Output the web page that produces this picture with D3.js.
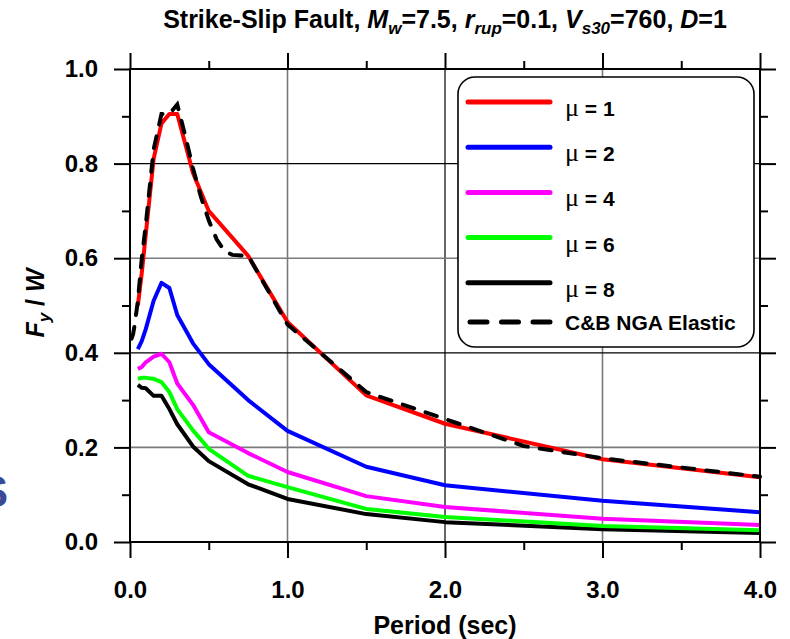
<!DOCTYPE html>
<html>
<head>
<meta charset="utf-8">
<script src="https://cdn.jsdelivr.net/npm/d3@7"></script>
<style>
  body { margin: 0; background: #fff; }
  svg { display: block; font-family: "Liberation Sans", Arial, sans-serif; }
  .tick text { font-weight: bold; }
</style>
</head>
<body>
<svg width="790" height="639"></svg>
<script>
// periods used for the inelastic runs
var periods = [0.05, 0.075, 0.1, 0.15, 0.2, 0.25, 0.3, 0.4, 0.5, 0.75, 1.0, 1.5, 2.0, 3.0, 4.0];
var mu1 = [0.50, 0.57, 0.65, 0.81, 0.885, 0.905, 0.905, 0.78, 0.70, 0.605, 0.465, 0.31, 0.25, 0.175, 0.137];
var mu2 = [0.408, 0.425, 0.45, 0.51, 0.548, 0.537, 0.48, 0.42, 0.376, 0.30, 0.235, 0.159, 0.12, 0.087, 0.063];
var mu4 = [0.366, 0.37, 0.38, 0.392, 0.398, 0.38, 0.335, 0.29, 0.232, 0.188, 0.148, 0.097, 0.074, 0.049, 0.036];
var mu6 = [0.345, 0.347, 0.347, 0.345, 0.338, 0.317, 0.281, 0.236, 0.197, 0.14, 0.116, 0.07, 0.053, 0.034, 0.025];
var mu8 = [0.332, 0.326, 0.325, 0.309, 0.309, 0.281, 0.249, 0.202, 0.171, 0.122, 0.091, 0.059, 0.042, 0.027, 0.019];

// Campbell & Bozorgnia NGA elastic spectrum
var elasticPeriods = [0.01, 0.02, 0.03, 0.05, 0.075, 0.1, 0.15, 0.2, 0.25, 0.3, 0.35, 0.4, 0.45, 0.5, 0.55, 0.6, 0.65, 0.75, 1.0, 1.5, 2.0, 2.5, 3.0, 4.0];
var elastic = [0.43, 0.44, 0.46, 0.51, 0.60, 0.67, 0.83, 0.905, 0.905, 0.925, 0.86, 0.79, 0.73, 0.68, 0.64, 0.615, 0.607, 0.605, 0.46, 0.317, 0.26, 0.203, 0.177, 0.138];

var muLabels = ["1", "2", "4", "6", "8"];
var colors = ["#ff0000", "#0000ff", "#ff00ff", "#00ff00", "#000000"];
var xTicks = [0, 1, 2, 3, 4];
var yTicks = [0, 0.2, 0.4, 0.6, 0.8, 1.0];

var series = [mu1, mu2, mu4, mu6, mu8].map(function(vals, i) {
  return {
    id: muLabels[i],
    color: colors[i],
    values: periods.map(function(p, j) { return {period: p, fy: vals[j]}; })
  };
});
var elasticLine = elasticPeriods.map(function(p, j) { return {period: p, fy: elastic[j]}; });

var svg = d3.select("svg"),
    margin = {top: 69, right: 30, bottom: 97, left: 130},
    width = +svg.attr("width") - margin.left - margin.right,
    height = +svg.attr("height") - margin.top - margin.bottom,
    g = svg.append("g").attr("transform", "translate(" + margin.left + "," + margin.top + ")");

var x = d3.scaleLinear().domain([0, 4]).range([0, width]),
    y = d3.scaleLinear().domain([0, 1]).range([height, 0]);

var line = d3.line()
    .x(function(d) { return x(d.period); })
    .y(function(d) { return y(d.fy); });

// grid
var gridX = [1, 2, 3], gridY = [0.2, 0.4, 0.6, 0.8];
g.selectAll(".gx").data(gridX).enter().append("line")
    .attr("x1", function(d) { return x(d); }).attr("x2", function(d) { return x(d); })
    .attr("y1", 0).attr("y2", height)
    .attr("stroke", function(d) { return d === 2 ? "#000" : "#7a7a7a"; })
    .attr("stroke-width", function(d) { return d === 2 ? 1.2 : 1.6; });
g.selectAll(".gy").data(gridY).enter().append("line")
    .attr("y1", function(d) { return y(d); }).attr("y2", function(d) { return y(d); })
    .attr("x1", 0).attr("x2", width)
    .attr("stroke", function(d) { return (d === 0.4 || d === 0.8) ? "#000" : "#7a7a7a"; })
    .attr("stroke-width", function(d) { return (d === 0.4 || d === 0.8) ? 1.2 : 1.6; });

// curves, mu=8 first so red ends on top
g.selectAll(".mu").data(series.slice().reverse()).enter().append("path")
    .attr("class", "mu")
    .attr("fill", "none")
    .attr("stroke", function(d) { return d.color; })
    .attr("stroke-width", 4)
    .attr("stroke-linejoin", "round")
    .attr("d", function(d) { return line(d.values); });

g.append("path")
    .datum(elasticLine)
    .attr("fill", "none")
    .attr("stroke", "#000")
    .attr("stroke-width", 4)
    .attr("stroke-linecap", "round")
    .attr("stroke-dasharray", "12,12")
    .attr("d", line);

// axes: major ticks with labels, minor ticks, ticks outward on all sides
function styleAxis(sel) {
  sel.select(".domain").remove();
  sel.selectAll(".tick line").attr("stroke-width", 2);
}
g.append("g").attr("transform", "translate(0," + height + ")")
    .call(d3.axisBottom(x).tickValues(xTicks).tickSize(16).tickPadding(23).tickFormat(d3.format(".1f")))
    .call(styleAxis)
    .selectAll("text").style("font-size", "24px").attr("fill", "#000");
g.append("g").attr("transform", "translate(0," + height + ")")
    .call(d3.axisBottom(x).tickValues([0.5, 1.5, 2.5, 3.5]).tickSize(8).tickFormat(""))
    .call(styleAxis);
g.append("g")
    .call(d3.axisTop(x).tickValues(xTicks).tickSize(16).tickFormat(""))
    .call(styleAxis);
g.append("g")
    .call(d3.axisTop(x).tickValues([0.5, 1.5, 2.5, 3.5]).tickSize(8).tickFormat(""))
    .call(styleAxis);
g.append("g")
    .call(d3.axisLeft(y).tickValues(yTicks).tickSize(16).tickPadding(16).tickFormat(d3.format(".1f")))
    .call(styleAxis)
    .selectAll("text").style("font-size", "24px").attr("fill", "#000");
g.append("g")
    .call(d3.axisLeft(y).tickValues([0.1, 0.3, 0.5, 0.7, 0.9]).tickSize(8).tickFormat(""))
    .call(styleAxis);
g.append("g").attr("transform", "translate(" + width + ",0)")
    .call(d3.axisRight(y).tickValues(yTicks).tickSize(16).tickFormat(""))
    .call(styleAxis);
g.append("g").attr("transform", "translate(" + width + ",0)")
    .call(d3.axisRight(y).tickValues([0.1, 0.3, 0.5, 0.7, 0.9]).tickSize(8).tickFormat(""))
    .call(styleAxis);

g.append("rect")
    .attr("width", width).attr("height", height)
    .attr("fill", "none").attr("stroke", "#000").attr("stroke-width", 2);

// legend
var legend = g.append("g").attr("transform", "translate(" + (458 - margin.left) + "," + (77 - margin.top) + ")");
legend.append("rect")
    .attr("width", 296).attr("height", 270).attr("rx", 17).attr("ry", 17)
    .attr("fill", "#fff").attr("stroke", "#000").attr("stroke-width", 1.6);

var rows = legend.selectAll(".row").data(series).enter().append("g")
    .attr("class", "row")
    .attr("transform", function(d, i) { return "translate(0," + (25 + i * 45.2) + ")"; });
rows.append("line")
    .attr("x1", 10).attr("x2", 92)
    .attr("stroke", function(d) { return d.color; })
    .attr("stroke-width", 5).attr("stroke-linecap", "round");
var rowText = rows.append("text").attr("x", 107).attr("y", 14)
    .style("font-size", "21px").style("font-weight", "bold");
rowText.append("tspan").style("font-family", "'Liberation Serif', serif").style("font-weight", "normal")
    .style("font-size", "26px").text("\u03bc");
rowText.append("tspan").text(function(d) { return " = " + d.id; });

var elRow = legend.append("g").attr("transform", "translate(0,245)");
elRow.append("line").attr("x1", 12).attr("x2", 92)
    .attr("stroke", "#000").attr("stroke-width", 5)
    .attr("stroke-linecap", "round").attr("stroke-dasharray", "17,14.5");
elRow.append("text").attr("x", 107).attr("y", 8)
    .style("font-size", "21px").style("font-weight", "bold").text("C&B NGA Elastic");

// labels
function addParts(text, parts) {
  parts.forEach(function(p) {
    var t = text.append("tspan").text(p.t);
    if (p.i) t.style("font-style", "italic");
    if (p.sub) t.attr("dy", p.sub).style("font-size", p.fs);
  });
}
var title = svg.append("text")
    .attr("x", 445).attr("y", 28)
    .attr("text-anchor", "middle")
    .style("font-size", "25px").style("font-weight", "bold");
addParts(title, [
  {t: "Strike-Slip Fault, "},
  {t: "M", i: true}, {t: "w", i: true, sub: 6, fs: "17px"}, {t: "=7.5, ", sub: -6, fs: "25px"},
  {t: "r", i: true}, {t: "rup", i: true, sub: 6, fs: "17px"}, {t: "=0.1, ", sub: -6, fs: "25px"},
  {t: "V", i: true}, {t: "s30", i: true, sub: 6, fs: "17px"}, {t: "=760, ", sub: -6, fs: "25px"},
  {t: "D", i: true}, {t: "=1"}
]);

svg.append("text")
    .attr("x", margin.left + width / 2).attr("y", 634)
    .attr("text-anchor", "middle")
    .style("font-size", "25px").style("font-weight", "bold")
    .text("Period (sec)");

var ylab = svg.append("text")
    .attr("transform", "translate(44,303) rotate(-90)")
    .attr("text-anchor", "middle")
    .style("font-size", "25px").style("font-weight", "bold");
addParts(ylab, [
  {t: "F", i: true}, {t: "y", i: true, sub: 6, fs: "17px"}, {t: " / ", sub: -6, fs: "25px"}, {t: "W", i: true}
]);

// clipped glyph at the left edge of the picture
svg.append("text")
    .attr("x", 8).attr("y", 507)
    .attr("text-anchor", "end")
    .style("font-size", "44px").style("font-weight", "bold")
    .attr("fill", "#3b4a96")
    .text("S");
</script>
</body>
</html>
